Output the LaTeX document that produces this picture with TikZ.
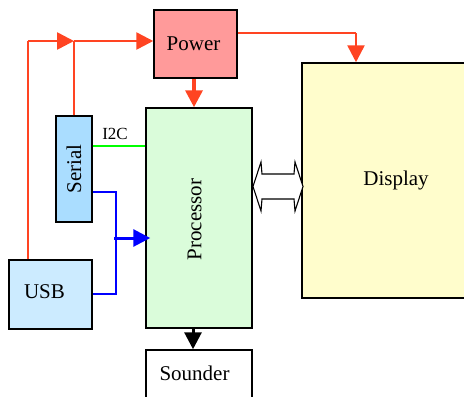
\documentclass[tikz,border=0pt]{standalone}
\usepackage{fontspec}
\setmainfont{Liberation Serif}
\usetikzlibrary{arrows.meta}
\definecolor{pwfill}{HTML}{FF9A9A}
\definecolor{procfill}{HTML}{DAFCDA}
\definecolor{serfill}{HTML}{AADDFF}
\definecolor{usbfill}{HTML}{CCEBFF}
\definecolor{dispfill}{HTML}{FFFDCC}
\definecolor{rline}{HTML}{FF4422}
\begin{document}
\begin{tikzpicture}[x=1bp,y=-1bp,
  box/.style={draw=black,line width=1.5bp,inner sep=0pt},
  txt/.style={font=\fontsize{21bp}{25bp}\selectfont,inner sep=0pt},
  rthin/.style={draw=rline,line width=1.5bp},
  rthick/.style={draw=rline,line width=2.6bp},
  tri/.style={-{Triangle[length=17bp,width=17bp]}},
  dbl/.style={draw=black,line width=1.1bp,fill=white}]
\useasboundingbox (0,0) rectangle (464,396);
% boxes
\node[box,fill=dispfill,minimum width=188bp,minimum height=235bp,
  label={[txt]center:Display}] (display) at (396,180.5) {};
\node[box,fill=pwfill,minimum width=83bp,minimum height=68bp,
  label={[txt,xshift=-2bp]center:Power}] (power) at (195.5,44) {};
\node[box,fill=procfill,minimum width=106bp,minimum height=220bp,
  label={[txt,rotate=90,xshift=-1.5bp,yshift=4.5bp]center:Processor}] (proc) at (199,218) {};
\node[box,fill=serfill,minimum width=36bp,minimum height=106bp,
  label={[txt,rotate=90]center:Serial}] (serial) at (74,169) {};
\node[box,fill=usbfill,minimum width=83bp,minimum height=69bp,
  label={[txt,xshift=-6bp,yshift=3bp]center:USB}] (usb) at (50.5,294.5) {};
\node[box,fill=white,minimum width=106bp,minimum height=50bp,
  label={[txt,xshift=-4.5bp,yshift=2bp]center:Sounder}] (sounder) at (199,375) {};
% coordinates
\coordinate (j) at (28,41);
\coordinate (k) at (74,41);
\coordinate (pd) at (356,33);
% red power lines
\draw[rthin] (usb.north -| j) -- (j);
\draw[rthick,tri] (j) -- (k);
\draw[rthick] (serial.north -| k) -- (k);
\draw[rthick,tri] (k) -- (power.west |- k);
\draw[rline,line width=3.5bp,tri] (power.south -| 194,0) -- (proc.north -| 194,0);
\draw[rthin] (power.east |- pd) -- (pd);
\draw[rthick,tri] (pd) -- (display.north -| pd);
% I2C
\draw[green,line width=1.5bp] (serial.east |- 0,146) -- (proc.west |- 0,146);
\node[text=black,font=\fontsize{17bp}{19bp}\selectfont,inner sep=0pt] (i2c) at (115,134) {I2C};
% blue data lines
\coordinate (bj) at (116,238);
\draw[blue,line width=1.5bp] (serial.east |- 0,192) -| (116,294) -- (usb.east |- 0,294);
\draw[blue,line width=3bp,tri] (114,238) -- ([xshift=5bp]proc.west |- bj);
% sounder arrow
\draw[black,line width=3bp,tri] (proc.south -| 193,0) -- (sounder.north -| 193,0);
% bidirectional bus
\path[dbl] (253,186.5) -- (261,162) -- (262,174) -- (294,174) -- (295,162) -- (303,186.5)
  -- (295,211) -- (294,199) -- (262,199) -- (261,211) -- cycle;
\end{tikzpicture}
\end{document}
